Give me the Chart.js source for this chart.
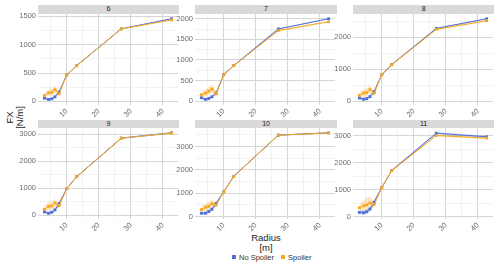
<!DOCTYPE html>
<html>
<head>
<meta charset="utf-8">
<script src="https://cdn.jsdelivr.net/npm/chart.js@4.4.1/dist/chart.umd.min.js"></script>
<style>
  body { margin: 0; width: 500px; height: 268px; background: #fff; position: relative; overflow: hidden;
         font-family: "Liberation Sans", Arial, sans-serif; }
  canvas { position: absolute; }
  .strip { position: absolute; background: #d9d9d9; color: #1a1a1a; font-size: 7px; text-align: center; }
  .ttl { position: absolute; color: #222; font-size: 9.5px; text-align: center; line-height: 9.5px; }
  .legend { position: absolute; top: 253px; left: 228px; font-size: 7.5px; color: #333; white-space: nowrap; }
  .legend i { display: inline-block; width: 4px; height: 4px; margin: 0 3px 0 4px; vertical-align: 1px; }
</style>
</head>
<body>
<div class="ttl" style="left:-6px;top:108px;width:40px;transform:rotate(-90deg);">FX<br>[N/m]</div>
<div class="ttl" style="left:236px;top:233px;width:60px;">Radius<br>[m]</div>
<div class="legend"><i style="background:#4f6fd8"></i>No Spoiler <i style="background:#f7a823;margin-left:5px"></i>Spoiler</div>

<script>
// radius of each measurement point, same for all panels
const radius = [3, 4.3, 5.3, 6.3, 7.6, 10, 13.1, 27, 42.7];
const panelNames = ['6', '7', '8', '9', '10', '11'];

// FX values per panel
const noSpoiler6  = [58, 35, 46, 81, 165, 469, 631, 1280, 1458];
const spoiler6    = [104, 150, 160, 208, 135, 469, 631, 1278, 1437];
const noSpoiler7  = [80, 40, 64, 104, 192, 648, 864, 1752, 2000];
const spoiler7    = [152, 192, 240, 296, 176, 640, 860, 1712, 1928];
const noSpoiler8  = [103, 62, 82, 144, 299, 835, 1144, 2278, 2577];
const spoiler8    = [186, 258, 268, 361, 247, 830, 1140, 2247, 2515];
const noSpoiler9  = [122, 73, 110, 196, 428, 991, 1432, 2864, 3060];
const spoiler9    = [220, 330, 343, 453, 355, 985, 1430, 2860, 3050];
const noSpoiler10 = [140, 140, 210, 308, 561, 1066, 1725, 3492, 3590];
const spoiler10   = [295, 393, 435, 547, 491, 1060, 1720, 3490, 3585];
const noSpoiler11 = [169, 157, 193, 289, 542, 1084, 1711, 3084, 2952];
const spoiler11   = [337, 410, 446, 518, 458, 1080, 1705, 3000, 2904];

// half width of the shaded bands
const bandNS6  = [25, 25, 25, 30, 30, 10, 10, 10, 10];
const bandS6   = [45, 60, 70, 70, 45, 10, 10, 10, 10];
const bandNS7  = [35, 35, 35, 40, 40, 15, 15, 15, 15];
const bandS7   = [70, 90, 100, 100, 60, 15, 15, 20, 20];
const bandNS8  = [50, 50, 50, 55, 55, 20, 20, 20, 20];
const bandS8   = [90, 120, 130, 130, 80, 20, 20, 25, 25];
const bandNS9  = [60, 60, 60, 70, 70, 25, 25, 25, 25];
const bandS9   = [110, 150, 160, 160, 100, 25, 25, 30, 30];
const bandNS10 = [70, 70, 75, 80, 80, 30, 30, 30, 30];
const bandS10  = [130, 170, 190, 190, 110, 30, 30, 30, 30];
const bandNS11 = [80, 80, 80, 90, 90, 30, 30, 40, 40];
const bandS11  = [150, 200, 260, 230, 120, 30, 30, 40, 40];

// axis ticks
const xMajor = [10, 20, 30, 40];
const xMinor = [5, 15, 25, 35];
const yMajor6 = [0, 500, 1000, 1500],        yMinor6 = [250, 750, 1250];
const yMajor7 = [0, 500, 1000, 1500, 2000],  yMinor7 = [250, 750, 1250, 1750];
const yMajor8 = [0, 1000, 2000],             yMinor8 = [500, 1500, 2500];
const yMajor9 = [0, 1000, 2000, 3000],       yMinor9 = [500, 1500, 2500];
const yMajor10 = [0, 1000, 2000, 3000],      yMinor10 = [500, 1500, 2500, 3500];
const yMajor11 = [0, 1000, 2000, 3000],      yMinor11 = [500, 1500, 2500];

const panels = [
  [noSpoiler6, spoiler6, bandNS6, bandS6, yMajor6, yMinor6],
  [noSpoiler7, spoiler7, bandNS7, bandS7, yMajor7, yMinor7],
  [noSpoiler8, spoiler8, bandNS8, bandS8, yMajor8, yMinor8],
  [noSpoiler9, spoiler9, bandNS9, bandS9, yMajor9, yMinor9],
  [noSpoiler10, spoiler10, bandNS10, bandS10, yMajor10, yMinor10],
  [noSpoiler11, spoiler11, bandNS11, bandS11, yMajor11, yMinor11]
];

const BLUE = '#4f6fd8', ORANGE = '#f7a823';
const colLeft = [37.6, 195.3, 352.9], rowTop = [13.7, 128];
const panelW = 141.5, panelH = 91, axisW = 26, xAxisH = 14, padTop = 8, stripH = 8.5;
const font = { family: '"Liberation Sans", Arial, sans-serif', size: 7.5 };

// ggplot style 5% expansion
function expand(lo, hi) {
  const d = (hi - lo) * 0.05;
  return [lo - d, hi + d];
}
const [xMin, xMax] = expand(Math.min(...radius), Math.max(...radius));

function pts(vals, off, sign) {
  return radius.map((r, k) => ({ x: r, y: vals[k] + (off ? sign * off[k] : 0) }));
}

panels.forEach((p, i) => {
  const [ns, s, bns, bs, yMaj, yMin] = p;
  const left = colLeft[i % 3], top = rowTop[Math.floor(i / 3)];

  const strip = document.createElement('div');
  strip.className = 'strip';
  strip.style.cssText = `left:${left}px;top:${top - stripH}px;width:${panelW}px;height:${stripH}px;line-height:${stripH}px;`;
  strip.textContent = panelNames[i];
  document.body.appendChild(strip);

  const cv = document.createElement('canvas');
  const w = Math.round(axisW + panelW + 2), h = Math.round(padTop + panelH + xAxisH);
  cv.width = w; cv.height = h;
  cv.style.cssText = `left:${left - axisW}px;top:${top - padTop}px;width:${w}px;height:${h}px;`;
  document.body.appendChild(cv);

  const lows = ns.map((v, k) => v - bns[k]).concat(s.map((v, k) => v - bs[k]));
  const highs = ns.map((v, k) => v + bns[k]).concat(s.map((v, k) => v + bs[k]));
  const [yLo, yHi] = expand(Math.min(...lows), Math.max(...highs));
  const yAll = yMaj.concat(yMin).filter(v => v >= yLo && v <= yHi).sort((a, b) => a - b);
  const xAll = xMajor.concat(xMinor).filter(v => v >= xMin && v <= xMax).sort((a, b) => a - b);

  new Chart(cv, {
    type: 'line',
    data: {
      datasets: [
        { data: pts(ns, bns, -1), borderWidth: 0, pointRadius: 0, fill: false, order: 3 },
        { data: pts(ns, bns, 1), borderWidth: 0, pointRadius: 0, fill: 0, backgroundColor: 'rgba(79,111,216,0.28)', order: 3 },
        { data: pts(s, bs, -1), borderWidth: 0, pointRadius: 0, fill: false, order: 3 },
        { data: pts(s, bs, 1), borderWidth: 0, pointRadius: 0, fill: 2, backgroundColor: 'rgba(247,168,35,0.28)', order: 3 },
        { label: 'No Spoiler', data: pts(ns), borderColor: BLUE, backgroundColor: BLUE, borderWidth: 1,
          pointStyle: 'rect', pointRadius: 2, pointBorderWidth: 0, fill: false, order: 1 },
        { label: 'Spoiler', data: pts(s), borderColor: ORANGE, backgroundColor: ORANGE, borderWidth: 1,
          pointStyle: 'rect', pointRadius: 2, pointBorderWidth: 0, fill: false, order: 0 }
      ]
    },
    options: {
      responsive: false,
      animation: false,
      devicePixelRatio: 1,
      layout: { padding: { top: padTop, right: 2, left: 0, bottom: 0 } },
      plugins: { legend: { display: false }, tooltip: { enabled: false } },
      scales: {
        x: {
          type: 'linear', min: xMin, max: xMax,
          border: { display: false },
          grid: {
            drawTicks: false,
            color: c => xMajor.includes(c.tick.value) ? '#d6d6d6' : '#ececec',
            lineWidth: c => xMajor.includes(c.tick.value) ? 1 : 0.7
          },
          ticks: {
            autoSkip: false, minRotation: 45, maxRotation: 45, padding: 2, color: '#6b6b6b', font: font,
            callback: v => xMajor.includes(v) ? String(v) : ''
          },
          afterBuildTicks: sc => { sc.ticks = xAll.map(v => ({ value: v })); },
          afterFit: sc => { sc.height = xAxisH; }
        },
        y: {
          type: 'linear', min: yLo, max: yHi,
          border: { display: false },
          grid: {
            drawTicks: false,
            color: c => yMaj.includes(c.tick.value) ? '#d6d6d6' : '#ececec',
            lineWidth: c => yMaj.includes(c.tick.value) ? 1 : 0.7
          },
          ticks: {
            autoSkip: false, padding: 2, color: '#6b6b6b', font: font,
            callback: v => yMaj.includes(v) ? String(v) : ''
          },
          afterBuildTicks: sc => { sc.ticks = yAll.map(v => ({ value: v })); },
          afterFit: sc => { sc.width = axisW; }
        }
      }
    }
  });
});
</script>
</body>
</html>
